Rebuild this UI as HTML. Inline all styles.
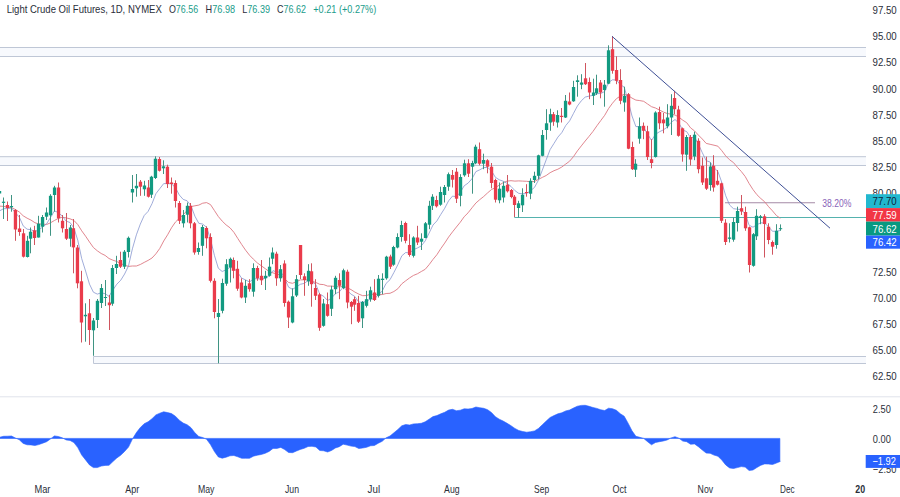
<!DOCTYPE html><html><head><meta charset="utf-8"><title>Light Crude Oil Futures</title>
<style>html,body{margin:0;padding:0;background:#fff}svg{display:block}text{font-family:"Liberation Sans","DejaVu Sans",sans-serif}</style></head><body>
<svg width="900" height="497" viewBox="0 0 900 497">
<rect width="900" height="497" fill="#ffffff"/>
<rect x="0" y="47.5" width="866" height="9.0" fill="#f7f9fd"/>
<path d="M0 47.5H866M0 56.5H866" stroke="#bfc7d6" stroke-width="1" fill="none"/>
<rect x="0" y="156.7" width="866" height="8.800000000000011" fill="#f7f9fd"/>
<path d="M0 156.7H866M0 165.5H866" stroke="#bfc7d6" stroke-width="1" fill="none"/>
<rect x="93.5" y="356.5" width="772.5" height="7.0" fill="#f7f9fd"/>
<path d="M93.5 356.5H866M93.5 363.5H866M93.5 356.5V363.5" stroke="#bfc7d6" stroke-width="1" fill="none"/>
<path d="M0 396.8H900" stroke="#e0e3eb" stroke-width="1"/>
<path d="M514.3 217.5H866" stroke="#55b2ae" stroke-width="1.0"/>
<path d="M725 202.7H815" stroke="#a58aa6" stroke-width="1.1"/>
<text x="822.3" y="206.5" font-size="10.5" fill="#8a63b8" textLength="29.2" lengthAdjust="spacingAndGlyphs">38.20%</text>
<polyline points="-0.3,206.1 3.6,206.4 7.6,207.2 11.5,207.6 15.4,209.5 19.3,212.0 23.2,215.8 27.1,218.2 31.0,220.1 34.9,222.7 38.8,224.0 42.7,224.1 46.6,224.5 50.5,222.8 54.4,220.5 58.3,218.4 62.2,217.2 66.1,217.9 70.0,218.8 73.9,220.4 77.8,224.6 81.7,230.8 85.6,236.2 89.5,242.0 93.4,247.5 97.3,250.8 101.2,253.5 105.1,255.4 109.0,258.5 112.9,260.2 116.8,261.5 120.7,263.5 124.6,265.2 128.5,266.4 132.4,266.0 136.4,266.0 140.3,264.5 144.2,262.4 148.1,260.4 152.0,258.0 155.9,253.8 159.8,248.4 163.7,241.0 167.6,234.8 171.5,227.8 175.4,222.1 179.3,218.3 183.2,214.8 187.1,210.5 191.0,206.6 194.9,205.8 198.8,205.1 202.7,203.2 206.6,202.6 210.5,204.6 214.4,210.5 218.3,216.5 222.2,221.1 226.1,224.9 230.0,227.8 233.9,232.3 237.8,238.5 241.7,244.5 245.6,250.2 249.5,255.2 253.4,259.2 257.3,262.9 261.2,265.7 265.2,268.6 269.1,271.5 273.0,272.9 276.9,274.1 280.8,275.2 284.7,278.8 288.6,282.5 292.5,283.3 296.4,281.7 300.3,279.9 304.2,279.8 308.1,280.1 312.0,281.3 315.9,282.5 319.8,284.3 323.7,284.6 327.6,286.1 331.5,286.1 335.4,286.5 339.3,286.9 343.2,286.4 347.1,287.7 351.0,289.6 354.9,292.1 358.8,294.1 362.7,295.7 366.6,295.5 370.5,294.2 374.4,294.4 378.3,294.4 382.2,294.6 386.1,293.5 390.0,293.3 393.9,291.5 397.9,288.7 401.8,283.8 405.7,280.8 409.6,277.9 413.5,275.4 417.4,273.8 421.3,271.5 425.2,269.3 429.1,264.7 433.0,259.4 436.9,254.7 440.8,248.6 444.7,243.1 448.6,237.1 452.5,231.9 456.4,227.0 460.3,222.2 464.2,216.7 468.1,212.8 472.0,207.8 475.9,203.0 479.8,199.6 483.7,196.5 487.6,192.9 491.5,189.5 495.4,187.7 499.3,185.1 503.2,182.6 507.1,181.1 511.0,180.7 514.9,181.1 518.8,180.9 522.7,181.1 526.7,181.3 530.6,181.7 534.5,181.5 538.4,179.4 542.3,177.4 546.2,175.5 550.1,172.7 554.0,170.7 557.9,169.2 561.8,167.0 565.7,164.1 569.6,161.2 573.5,156.6 577.4,150.9 581.3,145.9 585.2,141.0 589.1,136.3 593.0,131.4 596.9,125.8 600.8,120.5 604.7,115.3 608.6,108.5 612.5,103.2 616.4,98.7 620.3,96.1 624.2,94.3 628.1,95.5 632.0,98.1 635.9,100.1 639.8,100.6 643.7,101.3 647.6,104.0 651.5,106.7 655.5,108.0 659.4,110.0 663.3,112.0 667.2,113.5 671.1,114.2 675.0,115.0 678.9,117.2 682.8,120.2 686.7,122.7 690.6,127.9 694.5,130.9 698.4,135.1 702.3,139.0 706.2,143.4 710.1,144.3 714.0,145.2 717.9,146.2 721.8,150.7 725.7,155.9 729.6,159.8 733.5,162.6 737.4,167.3 741.3,171.5 745.2,176.5 749.1,183.5 753.0,189.6 756.9,194.7 760.8,198.5 764.7,201.8 768.6,206.7 772.5,210.9 776.4,215.5 780.3,218.3" fill="none" stroke="#dc7882" stroke-width="0.9" stroke-opacity="1" stroke-linejoin="round"/>
<polyline points="-0.3,210.8 3.6,208.7 7.6,208.6 11.5,208.0 15.4,212.8 19.3,217.1 23.2,225.9 27.1,229.2 31.0,229.7 34.9,231.6 38.8,229.8 42.7,227.0 46.6,223.8 50.5,217.5 54.4,210.9 58.3,212.5 62.2,216.0 66.1,221.1 70.0,222.5 73.9,228.0 77.8,240.3 81.7,258.6 85.6,271.1 89.5,284.2 93.4,292.2 97.3,294.1 101.2,292.8 105.1,293.7 109.0,296.3 112.9,290.0 116.8,284.2 120.7,280.3 124.6,274.0 128.5,265.9 132.4,248.8 136.4,234.8 140.3,224.1 144.2,215.5 148.1,211.4 152.0,203.7 155.9,193.7 159.8,188.6 163.7,183.6 167.6,183.7 171.5,183.8 175.4,187.6 179.3,195.0 183.2,199.4 187.1,200.8 191.0,205.8 194.9,216.2 198.8,223.3 202.7,224.1 206.6,227.3 210.5,239.2 214.4,255.3 218.3,268.2 222.2,271.5 226.1,269.8 230.0,267.4 233.9,268.1 237.8,272.7 241.7,278.2 245.6,279.9 249.5,282.0 253.4,278.9 257.3,278.7 261.2,279.1 265.2,278.4 269.1,275.8 273.0,270.6 276.9,272.3 280.8,271.6 284.7,278.6 288.6,287.2 292.5,289.3 296.4,287.0 300.3,284.3 304.2,283.4 308.1,280.6 312.0,281.4 315.9,284.6 319.8,294.2 323.7,296.3 327.6,300.6 331.5,298.1 335.4,293.6 339.3,291.9 343.2,287.1 347.1,290.5 351.0,294.1 354.9,296.5 358.8,302.1 362.7,302.1 366.6,301.4 370.5,298.9 374.4,299.2 378.3,294.6 382.2,291.1 386.1,283.4 390.0,279.7 393.9,272.5 397.9,264.6 401.8,255.8 405.7,252.5 409.6,253.0 413.5,249.6 417.4,248.0 421.3,245.9 425.2,240.9 429.1,233.1 433.0,225.0 436.9,220.9 440.8,214.4 444.7,208.3 448.6,200.8 452.5,196.1 456.4,196.7 460.3,192.3 464.2,185.8 468.1,183.1 472.0,178.7 475.9,171.6 479.8,169.8 483.7,167.6 487.6,167.4 491.5,170.9 495.4,177.3 499.3,179.8 503.2,181.2 507.1,183.4 511.0,186.4 514.9,190.6 518.8,193.4 522.7,193.7 526.7,193.5 530.6,190.7 534.5,187.4 538.4,180.3 542.3,170.2 546.2,159.8 550.1,149.6 554.0,143.4 557.9,137.1 561.8,132.6 565.7,125.6 569.6,120.9 573.5,113.4 577.4,106.0 581.3,100.8 585.2,97.1 589.1,96.1 593.0,95.3 596.9,93.7 600.8,93.5 604.7,91.5 608.6,82.4 612.5,79.8 616.4,80.0 620.3,84.6 624.2,87.1 628.1,100.8 632.0,116.0 635.9,126.6 639.8,126.5 643.7,127.5 647.6,134.0 651.5,140.5 655.5,134.3 659.4,131.8 663.3,129.9 667.2,127.2 671.1,122.4 675.0,119.5 678.9,123.1 682.8,130.1 686.7,131.6 690.6,137.8 694.5,137.1 698.4,144.2 702.3,152.7 706.2,160.7 710.1,162.0 714.0,167.7 717.9,171.5 721.8,182.4 725.7,195.7 729.6,205.0 733.5,208.7 737.4,209.2 741.3,209.7 745.2,213.9 749.1,225.2 753.0,227.2 756.9,224.7 760.8,222.8 764.7,223.1 768.6,226.8 772.5,231.3 776.4,231.2 780.3,230.5" fill="none" stroke="#8090cc" stroke-width="0.75" stroke-opacity="1" stroke-linejoin="round"/>
<path d="M-0.5 190.0V195.0" stroke="#3f9483" stroke-width="1"/>
<rect x="-2.1" y="191.0" width="3.3" height="2.5" fill="#129a81"/>
<path d="M3.5 197.5V219.0" stroke="#3f9483" stroke-width="1"/>
<rect x="1.9" y="201.7" width="3.3" height="1.2" fill="#129a81"/>
<path d="M7.5 201.5V221.0" stroke="#d0555f" stroke-width="1"/>
<rect x="5.8" y="205.0" width="3.3" height="3.0" fill="#ea3b4b"/>
<path d="M11.5 195.0V211.7" stroke="#3f9483" stroke-width="1"/>
<rect x="9.8" y="206.0" width="3.3" height="1.2" fill="#129a81"/>
<path d="M15.5 209.0V240.8" stroke="#d0555f" stroke-width="1"/>
<rect x="13.8" y="210.0" width="3.3" height="19.5" fill="#ea3b4b"/>
<path d="M19.5 215.0V235.8" stroke="#d0555f" stroke-width="1"/>
<rect x="17.9" y="228.5" width="3.3" height="3.5" fill="#ea3b4b"/>
<path d="M23.5 229.0V257.5" stroke="#d0555f" stroke-width="1"/>
<rect x="21.9" y="233.3" width="3.3" height="23.4" fill="#ea3b4b"/>
<path d="M27.5 235.8V257.5" stroke="#3f9483" stroke-width="1"/>
<rect x="25.9" y="240.8" width="3.3" height="16.2" fill="#129a81"/>
<path d="M30.5 227.5V253.3" stroke="#3f9483" stroke-width="1"/>
<rect x="28.9" y="231.7" width="3.3" height="7.0" fill="#129a81"/>
<path d="M34.5 225.8V245.0" stroke="#d0555f" stroke-width="1"/>
<rect x="32.9" y="230.3" width="3.3" height="7.7" fill="#ea3b4b"/>
<path d="M38.5 215.8V237.5" stroke="#3f9483" stroke-width="1"/>
<rect x="36.9" y="223.7" width="3.3" height="13.8" fill="#129a81"/>
<path d="M42.5 215.0V232.5" stroke="#3f9483" stroke-width="1"/>
<rect x="40.9" y="217.0" width="3.3" height="9.7" fill="#129a81"/>
<path d="M46.5 207.5V220.0" stroke="#3f9483" stroke-width="1"/>
<rect x="44.9" y="212.5" width="3.3" height="4.2" fill="#129a81"/>
<path d="M50.5 194.2V235.8" stroke="#3f9483" stroke-width="1"/>
<rect x="48.9" y="195.8" width="3.3" height="19.5" fill="#129a81"/>
<path d="M54.5 185.8V211.7" stroke="#3f9483" stroke-width="1"/>
<rect x="52.9" y="187.5" width="3.3" height="7.5" fill="#129a81"/>
<path d="M58.5 182.5V222.5" stroke="#d0555f" stroke-width="1"/>
<rect x="56.9" y="187.5" width="3.3" height="30.8" fill="#ea3b4b"/>
<path d="M62.5 215.0V232.5" stroke="#d0555f" stroke-width="1"/>
<rect x="60.9" y="220.8" width="3.3" height="7.5" fill="#ea3b4b"/>
<path d="M66.5 213.0V240.0" stroke="#d0555f" stroke-width="1"/>
<rect x="64.8" y="229.0" width="3.3" height="9.7" fill="#ea3b4b"/>
<path d="M70.5 225.0V246.7" stroke="#3f9483" stroke-width="1"/>
<rect x="68.8" y="227.5" width="3.3" height="11.2" fill="#129a81"/>
<path d="M73.5 219.0V273.3" stroke="#d0555f" stroke-width="1"/>
<rect x="71.8" y="228.3" width="3.3" height="19.1" fill="#ea3b4b"/>
<path d="M77.5 245.0V288.3" stroke="#d0555f" stroke-width="1"/>
<rect x="75.8" y="247.5" width="3.3" height="35.8" fill="#ea3b4b"/>
<path d="M81.5 270.8V342.5" stroke="#d0555f" stroke-width="1"/>
<rect x="79.8" y="281.3" width="3.3" height="41.2" fill="#ea3b4b"/>
<path d="M85.5 303.3V341.7" stroke="#3f9483" stroke-width="1"/>
<rect x="83.8" y="314.8" width="3.3" height="1.5" fill="#129a81"/>
<path d="M89.5 299.0V345.0" stroke="#d0555f" stroke-width="1"/>
<rect x="87.8" y="313.3" width="3.3" height="16.7" fill="#ea3b4b"/>
<path d="M93.5 318.0V355.8" stroke="#3f9483" stroke-width="1"/>
<rect x="91.8" y="320.5" width="3.3" height="9.8" fill="#129a81"/>
<path d="M97.5 299.0V328.0" stroke="#3f9483" stroke-width="1"/>
<rect x="95.8" y="300.8" width="3.3" height="19.2" fill="#129a81"/>
<path d="M101.5 284.0V308.0" stroke="#3f9483" stroke-width="1"/>
<rect x="99.8" y="288.0" width="3.3" height="15.0" fill="#129a81"/>
<path d="M105.5 280.0V306.0" stroke="#3f9483" stroke-width="1"/>
<rect x="103.8" y="297.0" width="3.3" height="1.0" fill="#129a81"/>
<path d="M109.5 295.0V330.0" stroke="#d0555f" stroke-width="1"/>
<rect x="107.8" y="302.5" width="3.3" height="2.7" fill="#ea3b4b"/>
<path d="M112.5 265.0V305.8" stroke="#3f9483" stroke-width="1"/>
<rect x="110.8" y="268.0" width="3.3" height="35.7" fill="#129a81"/>
<path d="M116.5 255.8V274.0" stroke="#3f9483" stroke-width="1"/>
<rect x="114.8" y="264.0" width="3.3" height="4.0" fill="#129a81"/>
<path d="M120.5 251.7V268.0" stroke="#d0555f" stroke-width="1"/>
<rect x="118.8" y="260.0" width="3.3" height="6.7" fill="#ea3b4b"/>
<path d="M124.5 250.0V269.0" stroke="#3f9483" stroke-width="1"/>
<rect x="122.8" y="251.7" width="3.3" height="15.0" fill="#129a81"/>
<path d="M128.5 236.5V257.5" stroke="#3f9483" stroke-width="1"/>
<rect x="126.8" y="237.8" width="3.3" height="14.2" fill="#129a81"/>
<path d="M132.5 175.0V202.5" stroke="#3f9483" stroke-width="1"/>
<rect x="130.8" y="189.0" width="3.3" height="3.5" fill="#129a81"/>
<path d="M136.5 174.0V196.7" stroke="#3f9483" stroke-width="1"/>
<rect x="134.8" y="185.8" width="3.3" height="2.5" fill="#129a81"/>
<path d="M140.5 180.0V195.8" stroke="#d0555f" stroke-width="1"/>
<rect x="138.8" y="181.7" width="3.3" height="5.0" fill="#ea3b4b"/>
<path d="M144.5 180.8V195.8" stroke="#3f9483" stroke-width="1"/>
<rect x="142.8" y="185.5" width="3.3" height="3.8" fill="#129a81"/>
<path d="M148.5 180.0V197.5" stroke="#d0555f" stroke-width="1"/>
<rect x="146.8" y="187.5" width="3.3" height="9.2" fill="#ea3b4b"/>
<path d="M151.5 175.8V198.0" stroke="#3f9483" stroke-width="1"/>
<rect x="149.8" y="176.7" width="3.3" height="18.0" fill="#129a81"/>
<path d="M155.5 156.3V179.0" stroke="#3f9483" stroke-width="1"/>
<rect x="153.8" y="158.7" width="3.3" height="19.3" fill="#129a81"/>
<path d="M159.5 157.0V171.5" stroke="#d0555f" stroke-width="1"/>
<rect x="157.8" y="159.0" width="3.3" height="11.8" fill="#ea3b4b"/>
<path d="M163.5 160.3V174.0" stroke="#3f9483" stroke-width="1"/>
<rect x="161.8" y="166.3" width="3.3" height="2.0" fill="#129a81"/>
<path d="M167.5 164.7V188.0" stroke="#d0555f" stroke-width="1"/>
<rect x="165.8" y="166.7" width="3.3" height="17.3" fill="#ea3b4b"/>
<path d="M171.5 177.5V193.7" stroke="#d0555f" stroke-width="1"/>
<rect x="169.8" y="182.5" width="3.3" height="1.5" fill="#ea3b4b"/>
<path d="M175.5 180.3V207.5" stroke="#d0555f" stroke-width="1"/>
<rect x="173.8" y="183.0" width="3.3" height="18.0" fill="#ea3b4b"/>
<path d="M179.5 201.0V224.0" stroke="#d0555f" stroke-width="1"/>
<rect x="177.8" y="203.0" width="3.3" height="17.8" fill="#ea3b4b"/>
<path d="M183.5 210.0V227.5" stroke="#3f9483" stroke-width="1"/>
<rect x="181.8" y="215.0" width="3.3" height="8.3" fill="#129a81"/>
<path d="M187.5 202.5V222.5" stroke="#3f9483" stroke-width="1"/>
<rect x="185.8" y="205.8" width="3.3" height="8.9" fill="#129a81"/>
<path d="M190.5 203.0V228.3" stroke="#d0555f" stroke-width="1"/>
<rect x="188.8" y="205.8" width="3.3" height="17.5" fill="#ea3b4b"/>
<path d="M194.5 222.0V254.7" stroke="#d0555f" stroke-width="1"/>
<rect x="192.8" y="223.3" width="3.3" height="29.2" fill="#ea3b4b"/>
<path d="M198.5 242.5V254.7" stroke="#3f9483" stroke-width="1"/>
<rect x="196.8" y="248.0" width="3.3" height="4.0" fill="#129a81"/>
<path d="M202.5 225.0V255.8" stroke="#3f9483" stroke-width="1"/>
<rect x="200.8" y="227.0" width="3.3" height="18.8" fill="#129a81"/>
<path d="M206.5 226.3V248.3" stroke="#d0555f" stroke-width="1"/>
<rect x="204.8" y="228.0" width="3.3" height="10.3" fill="#ea3b4b"/>
<path d="M210.5 233.3V282.5" stroke="#d0555f" stroke-width="1"/>
<rect x="208.8" y="237.0" width="3.3" height="43.8" fill="#ea3b4b"/>
<path d="M214.5 278.3V318.3" stroke="#d0555f" stroke-width="1"/>
<rect x="212.8" y="280.8" width="3.3" height="31.2" fill="#ea3b4b"/>
<path d="M218.5 299.0V363.3" stroke="#3f9483" stroke-width="1"/>
<rect x="216.8" y="313.0" width="3.3" height="4.0" fill="#129a81"/>
<path d="M222.5 278.7V313.3" stroke="#3f9483" stroke-width="1"/>
<rect x="220.8" y="283.0" width="3.3" height="27.8" fill="#129a81"/>
<path d="M226.5 259.2V285.8" stroke="#3f9483" stroke-width="1"/>
<rect x="224.8" y="264.2" width="3.3" height="19.5" fill="#129a81"/>
<path d="M230.5 257.5V282.5" stroke="#3f9483" stroke-width="1"/>
<rect x="228.8" y="258.8" width="3.3" height="8.7" fill="#129a81"/>
<path d="M233.5 257.5V278.3" stroke="#d0555f" stroke-width="1"/>
<rect x="231.8" y="260.0" width="3.3" height="10.8" fill="#ea3b4b"/>
<path d="M237.5 260.8V290.8" stroke="#d0555f" stroke-width="1"/>
<rect x="235.8" y="268.8" width="3.3" height="19.9" fill="#ea3b4b"/>
<path d="M241.5 278.3V298.3" stroke="#d0555f" stroke-width="1"/>
<rect x="239.8" y="282.5" width="3.3" height="15.0" fill="#ea3b4b"/>
<path d="M245.5 280.0V303.0" stroke="#3f9483" stroke-width="1"/>
<rect x="243.8" y="285.8" width="3.3" height="11.7" fill="#129a81"/>
<path d="M249.5 279.2V291.7" stroke="#d0555f" stroke-width="1"/>
<rect x="247.8" y="283.3" width="3.3" height="5.9" fill="#ea3b4b"/>
<path d="M253.5 263.3V296.7" stroke="#3f9483" stroke-width="1"/>
<rect x="251.8" y="268.0" width="3.3" height="23.7" fill="#129a81"/>
<path d="M257.5 265.8V280.8" stroke="#d0555f" stroke-width="1"/>
<rect x="255.8" y="268.0" width="3.3" height="10.3" fill="#ea3b4b"/>
<path d="M261.5 260.0V285.0" stroke="#d0555f" stroke-width="1"/>
<rect x="259.9" y="275.8" width="3.3" height="4.5" fill="#ea3b4b"/>
<path d="M265.5 270.8V290.0" stroke="#3f9483" stroke-width="1"/>
<rect x="263.9" y="275.8" width="3.3" height="2.5" fill="#129a81"/>
<path d="M269.5 257.5V276.7" stroke="#3f9483" stroke-width="1"/>
<rect x="267.9" y="266.7" width="3.3" height="9.1" fill="#129a81"/>
<path d="M272.5 247.5V264.2" stroke="#3f9483" stroke-width="1"/>
<rect x="270.9" y="252.5" width="3.3" height="6.2" fill="#129a81"/>
<path d="M276.5 251.7V285.8" stroke="#d0555f" stroke-width="1"/>
<rect x="274.9" y="253.7" width="3.3" height="24.6" fill="#ea3b4b"/>
<path d="M280.5 265.0V281.7" stroke="#3f9483" stroke-width="1"/>
<rect x="278.9" y="269.2" width="3.3" height="9.1" fill="#129a81"/>
<path d="M284.5 260.3V306.7" stroke="#d0555f" stroke-width="1"/>
<rect x="282.9" y="263.5" width="3.3" height="39.5" fill="#ea3b4b"/>
<path d="M288.5 300.5V328.0" stroke="#d0555f" stroke-width="1"/>
<rect x="286.9" y="301.7" width="3.3" height="15.8" fill="#ea3b4b"/>
<path d="M292.5 288.3V323.3" stroke="#3f9483" stroke-width="1"/>
<rect x="290.9" y="296.3" width="3.3" height="26.2" fill="#129a81"/>
<path d="M296.5 275.0V297.0" stroke="#3f9483" stroke-width="1"/>
<rect x="294.9" y="279.2" width="3.3" height="16.3" fill="#129a81"/>
<path d="M300.5 245.0V279.0" stroke="#d0555f" stroke-width="1"/>
<rect x="298.9" y="245.0" width="3.3" height="30.0" fill="#ea3b4b"/>
<path d="M304.5 273.3V295.8" stroke="#d0555f" stroke-width="1"/>
<rect x="302.9" y="276.3" width="3.3" height="3.7" fill="#ea3b4b"/>
<path d="M308.5 264.2V285.8" stroke="#3f9483" stroke-width="1"/>
<rect x="306.9" y="270.8" width="3.3" height="10.5" fill="#129a81"/>
<path d="M311.5 263.3V306.7" stroke="#d0555f" stroke-width="1"/>
<rect x="309.9" y="271.3" width="3.3" height="12.9" fill="#ea3b4b"/>
<path d="M315.5 279.2V300.0" stroke="#d0555f" stroke-width="1"/>
<rect x="313.9" y="288.0" width="3.3" height="7.8" fill="#ea3b4b"/>
<path d="M319.5 293.0V330.8" stroke="#d0555f" stroke-width="1"/>
<rect x="317.9" y="294.5" width="3.3" height="33.3" fill="#ea3b4b"/>
<path d="M323.5 299.0V326.7" stroke="#3f9483" stroke-width="1"/>
<rect x="321.9" y="303.5" width="3.3" height="22.3" fill="#129a81"/>
<path d="M327.5 292.5V316.7" stroke="#d0555f" stroke-width="1"/>
<rect x="325.9" y="304.2" width="3.3" height="11.6" fill="#ea3b4b"/>
<path d="M331.5 285.8V316.0" stroke="#3f9483" stroke-width="1"/>
<rect x="329.9" y="289.5" width="3.3" height="19.3" fill="#129a81"/>
<path d="M335.5 275.8V294.2" stroke="#3f9483" stroke-width="1"/>
<rect x="333.9" y="277.8" width="3.3" height="11.4" fill="#129a81"/>
<path d="M339.5 273.3V299.2" stroke="#d0555f" stroke-width="1"/>
<rect x="337.9" y="280.0" width="3.3" height="5.8" fill="#ea3b4b"/>
<path d="M343.5 268.7V289.2" stroke="#3f9483" stroke-width="1"/>
<rect x="341.9" y="270.3" width="3.3" height="17.7" fill="#129a81"/>
<path d="M347.5 269.7V308.3" stroke="#d0555f" stroke-width="1"/>
<rect x="345.9" y="271.7" width="3.3" height="30.8" fill="#ea3b4b"/>
<path d="M351.5 301.0V324.2" stroke="#d0555f" stroke-width="1"/>
<rect x="349.9" y="302.0" width="3.3" height="4.7" fill="#ea3b4b"/>
<path d="M354.5 296.7V310.8" stroke="#d0555f" stroke-width="1"/>
<rect x="352.9" y="299.2" width="3.3" height="5.5" fill="#ea3b4b"/>
<path d="M358.5 295.8V323.0" stroke="#d0555f" stroke-width="1"/>
<rect x="356.9" y="303.0" width="3.3" height="18.7" fill="#ea3b4b"/>
<path d="M362.5 301.0V328.0" stroke="#3f9483" stroke-width="1"/>
<rect x="360.9" y="302.0" width="3.3" height="16.3" fill="#129a81"/>
<path d="M366.5 290.8V307.5" stroke="#3f9483" stroke-width="1"/>
<rect x="364.9" y="299.2" width="3.3" height="6.6" fill="#129a81"/>
<path d="M370.5 286.7V301.7" stroke="#3f9483" stroke-width="1"/>
<rect x="368.9" y="290.3" width="3.3" height="8.9" fill="#129a81"/>
<path d="M374.5 279.2V301.0" stroke="#d0555f" stroke-width="1"/>
<rect x="372.9" y="292.5" width="3.3" height="7.5" fill="#ea3b4b"/>
<path d="M378.5 275.0V297.5" stroke="#3f9483" stroke-width="1"/>
<rect x="376.9" y="278.7" width="3.3" height="17.1" fill="#129a81"/>
<path d="M382.5 273.3V294.2" stroke="#3f9483" stroke-width="1"/>
<rect x="380.9" y="278.7" width="3.3" height="1.3" fill="#129a81"/>
<path d="M386.5 255.8V279.7" stroke="#3f9483" stroke-width="1"/>
<rect x="384.9" y="256.7" width="3.3" height="21.6" fill="#129a81"/>
<path d="M390.5 254.7V269.0" stroke="#d0555f" stroke-width="1"/>
<rect x="388.9" y="256.5" width="3.3" height="10.2" fill="#ea3b4b"/>
<path d="M393.5 245.8V265.8" stroke="#3f9483" stroke-width="1"/>
<rect x="391.9" y="247.0" width="3.3" height="17.7" fill="#129a81"/>
<path d="M397.5 233.3V248.3" stroke="#3f9483" stroke-width="1"/>
<rect x="395.9" y="237.0" width="3.3" height="10.5" fill="#129a81"/>
<path d="M401.5 220.8V241.7" stroke="#3f9483" stroke-width="1"/>
<rect x="399.9" y="225.0" width="3.3" height="12.0" fill="#129a81"/>
<path d="M405.5 221.7V243.3" stroke="#d0555f" stroke-width="1"/>
<rect x="403.9" y="223.0" width="3.3" height="17.8" fill="#ea3b4b"/>
<path d="M409.5 234.2V256.7" stroke="#d0555f" stroke-width="1"/>
<rect x="407.9" y="245.0" width="3.3" height="10.0" fill="#ea3b4b"/>
<path d="M413.5 236.3V257.5" stroke="#3f9483" stroke-width="1"/>
<rect x="411.9" y="237.5" width="3.3" height="18.3" fill="#129a81"/>
<path d="M417.5 225.8V245.0" stroke="#d0555f" stroke-width="1"/>
<rect x="415.9" y="237.5" width="3.3" height="5.0" fill="#ea3b4b"/>
<path d="M421.5 233.3V250.0" stroke="#3f9483" stroke-width="1"/>
<rect x="419.9" y="238.7" width="3.3" height="3.0" fill="#129a81"/>
<path d="M425.5 222.0V238.3" stroke="#3f9483" stroke-width="1"/>
<rect x="423.9" y="223.3" width="3.3" height="14.7" fill="#129a81"/>
<path d="M429.5 200.8V229.2" stroke="#3f9483" stroke-width="1"/>
<rect x="427.9" y="205.8" width="3.3" height="18.9" fill="#129a81"/>
<path d="M432.5 194.2V210.0" stroke="#3f9483" stroke-width="1"/>
<rect x="430.9" y="196.7" width="3.3" height="9.1" fill="#129a81"/>
<path d="M436.5 195.8V207.5" stroke="#d0555f" stroke-width="1"/>
<rect x="434.9" y="200.0" width="3.3" height="6.3" fill="#ea3b4b"/>
<path d="M440.5 186.7V205.8" stroke="#3f9483" stroke-width="1"/>
<rect x="438.9" y="192.0" width="3.3" height="12.7" fill="#129a81"/>
<path d="M444.5 185.0V202.5" stroke="#3f9483" stroke-width="1"/>
<rect x="442.9" y="187.0" width="3.3" height="8.0" fill="#129a81"/>
<path d="M448.5 172.5V190.8" stroke="#3f9483" stroke-width="1"/>
<rect x="446.9" y="174.2" width="3.3" height="12.5" fill="#129a81"/>
<path d="M452.5 170.0V187.5" stroke="#d0555f" stroke-width="1"/>
<rect x="450.9" y="175.0" width="3.3" height="4.7" fill="#ea3b4b"/>
<path d="M456.5 168.0V203.0" stroke="#d0555f" stroke-width="1"/>
<rect x="454.9" y="171.7" width="3.3" height="27.0" fill="#ea3b4b"/>
<path d="M460.5 174.2V206.3" stroke="#3f9483" stroke-width="1"/>
<rect x="458.9" y="177.0" width="3.3" height="18.8" fill="#129a81"/>
<path d="M464.5 159.7V176.7" stroke="#3f9483" stroke-width="1"/>
<rect x="462.9" y="163.3" width="3.3" height="12.0" fill="#129a81"/>
<path d="M468.5 159.2V177.0" stroke="#d0555f" stroke-width="1"/>
<rect x="466.9" y="163.3" width="3.3" height="10.4" fill="#ea3b4b"/>
<path d="M472.5 160.8V193.7" stroke="#3f9483" stroke-width="1"/>
<rect x="470.9" y="163.0" width="3.3" height="3.7" fill="#129a81"/>
<path d="M475.5 144.7V164.2" stroke="#3f9483" stroke-width="1"/>
<rect x="473.9" y="146.7" width="3.3" height="16.6" fill="#129a81"/>
<path d="M479.5 142.5V165.3" stroke="#d0555f" stroke-width="1"/>
<rect x="477.9" y="149.2" width="3.3" height="14.5" fill="#ea3b4b"/>
<path d="M483.5 153.7V169.2" stroke="#3f9483" stroke-width="1"/>
<rect x="481.9" y="160.0" width="3.3" height="3.7" fill="#129a81"/>
<path d="M487.5 159.2V173.3" stroke="#d0555f" stroke-width="1"/>
<rect x="485.9" y="160.3" width="3.3" height="6.4" fill="#ea3b4b"/>
<path d="M491.5 163.0V188.3" stroke="#d0555f" stroke-width="1"/>
<rect x="489.9" y="166.7" width="3.3" height="16.3" fill="#ea3b4b"/>
<path d="M495.5 178.7V202.5" stroke="#d0555f" stroke-width="1"/>
<rect x="493.9" y="180.0" width="3.3" height="19.7" fill="#ea3b4b"/>
<path d="M499.5 182.5V203.3" stroke="#3f9483" stroke-width="1"/>
<rect x="497.9" y="188.7" width="3.3" height="11.6" fill="#129a81"/>
<path d="M503.5 181.7V202.5" stroke="#3f9483" stroke-width="1"/>
<rect x="501.9" y="185.8" width="3.3" height="11.7" fill="#129a81"/>
<path d="M507.5 175.0V192.5" stroke="#d0555f" stroke-width="1"/>
<rect x="505.9" y="184.7" width="3.3" height="6.6" fill="#ea3b4b"/>
<path d="M511.5 189.0V198.3" stroke="#d0555f" stroke-width="1"/>
<rect x="509.9" y="190.0" width="3.3" height="7.0" fill="#ea3b4b"/>
<path d="M514.5 195.0V217.0" stroke="#d0555f" stroke-width="1"/>
<rect x="512.9" y="196.7" width="3.3" height="8.3" fill="#ea3b4b"/>
<path d="M518.5 200.8V217.5" stroke="#3f9483" stroke-width="1"/>
<rect x="516.9" y="203.3" width="3.3" height="4.7" fill="#129a81"/>
<path d="M522.5 188.3V212.0" stroke="#3f9483" stroke-width="1"/>
<rect x="520.9" y="194.7" width="3.3" height="10.6" fill="#129a81"/>
<path d="M526.5 184.2V196.7" stroke="#d0555f" stroke-width="1"/>
<rect x="524.9" y="192.0" width="3.3" height="1.0" fill="#ea3b4b"/>
<path d="M530.5 178.3V199.2" stroke="#3f9483" stroke-width="1"/>
<rect x="528.9" y="180.8" width="3.3" height="12.9" fill="#129a81"/>
<path d="M534.5 171.7V183.0" stroke="#3f9483" stroke-width="1"/>
<rect x="532.9" y="175.8" width="3.3" height="4.2" fill="#129a81"/>
<path d="M538.5 154.7V179.2" stroke="#3f9483" stroke-width="1"/>
<rect x="536.9" y="155.3" width="3.3" height="20.5" fill="#129a81"/>
<path d="M542.5 130.0V156.3" stroke="#3f9483" stroke-width="1"/>
<rect x="540.9" y="135.0" width="3.3" height="20.8" fill="#129a81"/>
<path d="M546.5 109.2V139.7" stroke="#3f9483" stroke-width="1"/>
<rect x="544.9" y="123.3" width="3.3" height="6.7" fill="#129a81"/>
<path d="M550.5 108.7V130.8" stroke="#3f9483" stroke-width="1"/>
<rect x="548.9" y="114.2" width="3.3" height="8.3" fill="#129a81"/>
<path d="M553.5 112.0V125.8" stroke="#d0555f" stroke-width="1"/>
<rect x="551.9" y="114.2" width="3.3" height="7.5" fill="#ea3b4b"/>
<path d="M557.5 110.3V127.5" stroke="#3f9483" stroke-width="1"/>
<rect x="555.9" y="115.0" width="3.3" height="7.5" fill="#129a81"/>
<path d="M561.5 108.0V122.5" stroke="#d0555f" stroke-width="1"/>
<rect x="559.9" y="115.8" width="3.3" height="1.2" fill="#ea3b4b"/>
<path d="M565.5 95.0V118.0" stroke="#3f9483" stroke-width="1"/>
<rect x="563.9" y="100.8" width="3.3" height="16.7" fill="#129a81"/>
<path d="M569.5 92.5V105.3" stroke="#d0555f" stroke-width="1"/>
<rect x="567.9" y="101.5" width="3.3" height="3.0" fill="#ea3b4b"/>
<path d="M573.5 80.8V101.8" stroke="#3f9483" stroke-width="1"/>
<rect x="571.9" y="87.0" width="3.3" height="14.3" fill="#129a81"/>
<path d="M577.5 75.3V96.7" stroke="#3f9483" stroke-width="1"/>
<rect x="575.9" y="80.3" width="3.3" height="1.7" fill="#129a81"/>
<path d="M581.5 74.2V89.2" stroke="#3f9483" stroke-width="1"/>
<rect x="579.9" y="82.5" width="3.3" height="2.2" fill="#129a81"/>
<path d="M585.5 63.0V85.0" stroke="#d0555f" stroke-width="1"/>
<rect x="583.9" y="78.3" width="3.3" height="5.9" fill="#ea3b4b"/>
<path d="M589.5 77.5V99.2" stroke="#d0555f" stroke-width="1"/>
<rect x="587.9" y="82.0" width="3.3" height="10.5" fill="#ea3b4b"/>
<path d="M593.5 78.7V105.0" stroke="#3f9483" stroke-width="1"/>
<rect x="591.9" y="92.5" width="3.3" height="3.3" fill="#129a81"/>
<path d="M596.5 74.7V95.0" stroke="#3f9483" stroke-width="1"/>
<rect x="594.9" y="88.3" width="3.3" height="5.0" fill="#129a81"/>
<path d="M600.5 80.0V98.3" stroke="#d0555f" stroke-width="1"/>
<rect x="598.9" y="82.5" width="3.3" height="10.0" fill="#ea3b4b"/>
<path d="M604.5 80.0V106.7" stroke="#3f9483" stroke-width="1"/>
<rect x="602.9" y="84.7" width="3.3" height="5.3" fill="#129a81"/>
<path d="M608.5 45.3V84.2" stroke="#3f9483" stroke-width="1"/>
<rect x="606.9" y="50.3" width="3.3" height="33.4" fill="#129a81"/>
<path d="M612.5 36.3V73.7" stroke="#d0555f" stroke-width="1"/>
<rect x="610.9" y="49.2" width="3.3" height="21.6" fill="#ea3b4b"/>
<path d="M616.5 56.3V84.2" stroke="#d0555f" stroke-width="1"/>
<rect x="614.9" y="70.0" width="3.3" height="10.8" fill="#ea3b4b"/>
<path d="M620.5 69.2V104.2" stroke="#d0555f" stroke-width="1"/>
<rect x="618.9" y="80.0" width="3.3" height="20.8" fill="#ea3b4b"/>
<path d="M624.5 86.7V111.7" stroke="#3f9483" stroke-width="1"/>
<rect x="622.9" y="95.8" width="3.3" height="6.7" fill="#129a81"/>
<path d="M628.5 93.0V149.2" stroke="#d0555f" stroke-width="1"/>
<rect x="626.9" y="94.2" width="3.3" height="54.5" fill="#ea3b4b"/>
<path d="M632.5 141.7V170.0" stroke="#d0555f" stroke-width="1"/>
<rect x="630.9" y="147.0" width="3.3" height="22.2" fill="#ea3b4b"/>
<path d="M635.5 159.2V177.0" stroke="#3f9483" stroke-width="1"/>
<rect x="633.9" y="163.7" width="3.3" height="6.0" fill="#129a81"/>
<path d="M639.5 117.5V143.7" stroke="#3f9483" stroke-width="1"/>
<rect x="637.9" y="126.3" width="3.3" height="12.4" fill="#129a81"/>
<path d="M643.5 122.5V139.2" stroke="#d0555f" stroke-width="1"/>
<rect x="641.9" y="125.8" width="3.3" height="5.0" fill="#ea3b4b"/>
<path d="M647.5 125.8V160.0" stroke="#d0555f" stroke-width="1"/>
<rect x="645.9" y="131.3" width="3.3" height="25.7" fill="#ea3b4b"/>
<path d="M651.5 139.2V168.3" stroke="#d0555f" stroke-width="1"/>
<rect x="649.9" y="159.2" width="3.3" height="3.8" fill="#ea3b4b"/>
<path d="M655.5 111.3V157.5" stroke="#3f9483" stroke-width="1"/>
<rect x="653.9" y="112.5" width="3.3" height="44.5" fill="#129a81"/>
<path d="M659.5 106.7V129.2" stroke="#d0555f" stroke-width="1"/>
<rect x="657.9" y="112.0" width="3.3" height="11.3" fill="#ea3b4b"/>
<path d="M663.5 113.0V133.3" stroke="#d0555f" stroke-width="1"/>
<rect x="661.9" y="119.5" width="3.3" height="3.8" fill="#ea3b4b"/>
<path d="M667.5 104.2V128.3" stroke="#3f9483" stroke-width="1"/>
<rect x="665.9" y="117.5" width="3.3" height="8.8" fill="#129a81"/>
<path d="M671.5 94.2V135.0" stroke="#3f9483" stroke-width="1"/>
<rect x="669.9" y="105.8" width="3.3" height="11.7" fill="#129a81"/>
<path d="M674.5 90.8V114.2" stroke="#d0555f" stroke-width="1"/>
<rect x="672.9" y="98.0" width="3.3" height="11.2" fill="#ea3b4b"/>
<path d="M678.5 105.8V136.7" stroke="#d0555f" stroke-width="1"/>
<rect x="676.9" y="109.5" width="3.3" height="26.3" fill="#ea3b4b"/>
<path d="M682.5 127.5V161.7" stroke="#d0555f" stroke-width="1"/>
<rect x="680.9" y="128.3" width="3.3" height="26.1" fill="#ea3b4b"/>
<path d="M686.5 135.0V170.8" stroke="#3f9483" stroke-width="1"/>
<rect x="684.9" y="137.0" width="3.3" height="17.7" fill="#129a81"/>
<path d="M690.5 135.0V165.5" stroke="#d0555f" stroke-width="1"/>
<rect x="688.9" y="137.0" width="3.3" height="22.5" fill="#ea3b4b"/>
<path d="M694.5 131.7V160.2" stroke="#3f9483" stroke-width="1"/>
<rect x="692.9" y="134.7" width="3.3" height="21.8" fill="#129a81"/>
<path d="M698.5 138.3V173.3" stroke="#d0555f" stroke-width="1"/>
<rect x="696.9" y="140.8" width="3.3" height="28.4" fill="#ea3b4b"/>
<path d="M702.5 157.5V185.0" stroke="#d0555f" stroke-width="1"/>
<rect x="700.9" y="165.8" width="3.3" height="16.7" fill="#ea3b4b"/>
<path d="M706.5 156.7V190.0" stroke="#d0555f" stroke-width="1"/>
<rect x="704.9" y="178.3" width="3.3" height="10.4" fill="#ea3b4b"/>
<path d="M710.5 162.5V190.8" stroke="#3f9483" stroke-width="1"/>
<rect x="708.9" y="166.5" width="3.3" height="18.5" fill="#129a81"/>
<path d="M713.5 155.2V191.7" stroke="#d0555f" stroke-width="1"/>
<rect x="711.9" y="165.8" width="3.3" height="21.7" fill="#ea3b4b"/>
<path d="M717.5 170.0V185.5" stroke="#d0555f" stroke-width="1"/>
<rect x="715.9" y="180.8" width="3.3" height="3.9" fill="#ea3b4b"/>
<path d="M721.5 182.5V223.0" stroke="#d0555f" stroke-width="1"/>
<rect x="719.9" y="183.3" width="3.3" height="37.5" fill="#ea3b4b"/>
<path d="M725.5 219.2V245.0" stroke="#d0555f" stroke-width="1"/>
<rect x="723.9" y="222.7" width="3.3" height="19.3" fill="#ea3b4b"/>
<path d="M729.5 223.3V242.5" stroke="#3f9483" stroke-width="1"/>
<rect x="727.9" y="237.5" width="3.3" height="1.3" fill="#129a81"/>
<path d="M733.5 217.5V241.7" stroke="#3f9483" stroke-width="1"/>
<rect x="731.9" y="222.0" width="3.3" height="17.7" fill="#129a81"/>
<path d="M737.5 206.7V231.5" stroke="#3f9483" stroke-width="1"/>
<rect x="735.9" y="211.0" width="3.3" height="12.0" fill="#129a81"/>
<path d="M741.5 195.0V215.0" stroke="#d0555f" stroke-width="1"/>
<rect x="739.9" y="208.2" width="3.3" height="3.3" fill="#ea3b4b"/>
<path d="M745.5 206.7V230.8" stroke="#d0555f" stroke-width="1"/>
<rect x="743.9" y="212.0" width="3.3" height="16.3" fill="#ea3b4b"/>
<path d="M749.5 226.5V272.5" stroke="#d0555f" stroke-width="1"/>
<rect x="747.9" y="227.3" width="3.3" height="37.7" fill="#ea3b4b"/>
<path d="M753.5 233.0V266.7" stroke="#3f9483" stroke-width="1"/>
<rect x="751.9" y="234.2" width="3.3" height="31.6" fill="#129a81"/>
<path d="M756.5 209.2V240.0" stroke="#3f9483" stroke-width="1"/>
<rect x="754.9" y="215.8" width="3.3" height="20.5" fill="#129a81"/>
<path d="M760.5 215.0V224.2" stroke="#3f9483" stroke-width="1"/>
<rect x="758.9" y="216.3" width="3.3" height="1.7" fill="#129a81"/>
<path d="M764.5 214.2V257.5" stroke="#d0555f" stroke-width="1"/>
<rect x="762.9" y="216.3" width="3.3" height="7.7" fill="#ea3b4b"/>
<path d="M768.5 223.3V244.2" stroke="#d0555f" stroke-width="1"/>
<rect x="766.9" y="226.7" width="3.3" height="13.3" fill="#ea3b4b"/>
<path d="M772.5 240.5V254.7" stroke="#d0555f" stroke-width="1"/>
<rect x="770.9" y="242.0" width="3.3" height="4.7" fill="#ea3b4b"/>
<path d="M776.5 224.2V248.7" stroke="#3f9483" stroke-width="1"/>
<rect x="774.9" y="230.8" width="3.3" height="14.2" fill="#129a81"/>
<path d="M780.5 224.4V230.8" stroke="#3f9483" stroke-width="1"/>
<rect x="778.9" y="228.2" width="3.3" height="1.0" fill="#129a81"/>
<path d="M612 36.3L830 228.2" stroke="#3f5096" stroke-width="1.0"/>
<path d="M-0.3 438.4L-0.3 437.2L3.6 436.3L7.6 436.2L11.5 436.0L15.4 438.0L19.3 439.8L23.2 443.4L27.1 444.8L31.0 444.9L34.9 445.5L38.8 444.6L42.7 443.2L46.6 441.7L50.5 438.9L54.4 435.9L58.3 436.5L62.2 437.8L66.1 439.9L70.0 440.4L73.9 442.6L77.8 447.6L81.7 455.0L85.6 459.9L89.5 464.9L93.4 467.6L97.3 467.6L101.2 466.1L105.1 465.4L109.0 465.3L112.9 461.6L116.8 458.0L120.7 455.2L124.6 451.4L128.5 447.1L132.4 439.1L136.4 432.6L140.3 427.6L144.2 423.7L148.1 421.8L152.0 418.7L155.9 414.9L159.8 413.2L163.7 411.8L167.6 412.6L171.5 413.6L175.4 416.2L179.3 420.2L183.2 423.1L187.1 424.7L191.0 427.7L194.9 432.8L198.8 436.5L202.7 437.5L206.6 439.3L210.5 444.6L214.4 451.5L218.3 456.9L222.2 458.2L226.1 457.2L230.0 455.8L233.9 455.5L237.8 456.8L241.7 458.3L245.6 458.3L249.5 458.3L253.4 456.2L257.3 455.2L261.2 454.5L265.2 453.3L269.1 451.4L273.0 448.4L276.9 448.4L280.8 447.4L284.7 449.6L288.6 452.5L292.5 452.7L296.4 451.1L300.3 449.4L304.2 448.3L308.1 446.5L312.0 446.3L315.9 447.0L319.8 450.5L323.7 450.8L327.6 452.0L331.5 450.5L335.4 448.0L339.3 446.7L343.2 444.2L347.1 445.1L351.0 446.1L354.9 446.6L358.8 448.5L362.7 448.0L366.6 447.3L370.5 445.8L374.4 445.5L378.3 443.2L382.2 441.3L386.1 437.8L390.0 436.0L393.9 432.8L397.9 429.4L401.8 425.8L405.7 424.5L409.6 425.0L413.5 423.9L417.4 423.7L421.3 423.3L425.2 421.8L429.1 419.2L433.0 416.6L436.9 415.6L440.8 413.8L444.7 412.3L448.6 410.1L452.5 409.3L456.4 410.7L460.3 410.2L464.2 408.8L468.1 409.0L472.0 408.5L475.9 407.0L479.8 407.7L483.7 408.3L487.6 409.7L491.5 412.6L495.4 416.7L499.3 419.2L503.2 421.1L507.1 423.3L511.0 425.7L514.9 428.4L518.8 430.5L522.7 431.5L526.7 432.2L530.6 431.7L534.5 430.9L538.4 428.5L542.3 424.8L546.2 421.1L550.1 417.5L554.0 415.6L557.9 413.8L561.8 412.8L565.7 410.9L569.6 410.0L573.5 408.0L577.4 406.2L581.3 405.4L585.2 405.3L589.1 406.3L593.0 407.5L596.9 408.4L600.8 409.8L604.7 410.5L608.6 408.2L612.5 408.7L616.4 410.3L620.3 413.7L624.2 416.2L628.1 423.2L632.0 430.8L635.9 436.3L639.8 437.3L643.7 438.4L647.6 441.7L651.5 444.8L655.5 442.5L659.4 441.7L663.3 441.0L667.2 439.9L671.1 437.9L675.0 436.7L678.9 438.2L682.8 441.1L686.7 441.7L690.6 444.3L694.5 443.9L698.4 446.7L702.3 450.0L706.2 453.1L710.1 453.3L714.0 455.1L717.9 456.2L721.8 460.1L725.7 464.9L729.6 467.9L733.5 468.5L737.4 467.6L741.3 466.6L745.2 467.1L749.1 470.5L753.0 470.0L756.9 467.5L760.8 465.3L764.7 463.9L768.6 464.1L772.5 464.5L776.4 463.1L780.3 461.4L779.9 461.4L779.9 438.4Z" fill="#2962ff" stroke="#2962ff" stroke-width="0.6"/>
<text x="872.5" y="14.0" font-size="11" fill="#2a2e39" textLength="24.2" lengthAdjust="spacingAndGlyphs">97.50</text>
<text x="872.5" y="40.2" font-size="11" fill="#2a2e39" textLength="24.2" lengthAdjust="spacingAndGlyphs">95.00</text>
<text x="872.5" y="66.3" font-size="11" fill="#2a2e39" textLength="24.2" lengthAdjust="spacingAndGlyphs">92.50</text>
<text x="872.5" y="92.5" font-size="11" fill="#2a2e39" textLength="24.2" lengthAdjust="spacingAndGlyphs">90.00</text>
<text x="872.5" y="118.6" font-size="11" fill="#2a2e39" textLength="24.2" lengthAdjust="spacingAndGlyphs">87.50</text>
<text x="872.5" y="144.8" font-size="11" fill="#2a2e39" textLength="24.2" lengthAdjust="spacingAndGlyphs">85.00</text>
<text x="872.5" y="170.9" font-size="11" fill="#2a2e39" textLength="24.2" lengthAdjust="spacingAndGlyphs">82.50</text>
<text x="872.5" y="197.1" font-size="11" fill="#2a2e39" textLength="24.2" lengthAdjust="spacingAndGlyphs">80.00</text>
<text x="872.5" y="275.5" font-size="11" fill="#2a2e39" textLength="24.2" lengthAdjust="spacingAndGlyphs">72.50</text>
<text x="872.5" y="301.7" font-size="11" fill="#2a2e39" textLength="24.2" lengthAdjust="spacingAndGlyphs">70.00</text>
<text x="872.5" y="327.8" font-size="11" fill="#2a2e39" textLength="24.2" lengthAdjust="spacingAndGlyphs">67.50</text>
<text x="872.5" y="354.0" font-size="11" fill="#2a2e39" textLength="24.2" lengthAdjust="spacingAndGlyphs">65.00</text>
<text x="872.5" y="380.1" font-size="11" fill="#2a2e39" textLength="24.2" lengthAdjust="spacingAndGlyphs">62.50</text>
<text x="872.8" y="412.5" font-size="11" fill="#2a2e39" textLength="18.0" lengthAdjust="spacingAndGlyphs">2.50</text>
<text x="872.8" y="442.5" font-size="11" fill="#2a2e39" textLength="18.0" lengthAdjust="spacingAndGlyphs">0.00</text>
<text x="872.8" y="472.5" font-size="11" fill="#2a2e39" textLength="23.5" lengthAdjust="spacingAndGlyphs">−2.50</text>
<rect x="866" y="194.2" width="34" height="13.900000000000006" fill="#22b8cf"/>
<text x="872.5" y="205.1" font-size="11" fill="#10243a" textLength="24.2" lengthAdjust="spacingAndGlyphs">77.70</text>
<rect x="866" y="208.1" width="34" height="13.5" fill="#f23645"/>
<text x="872.5" y="218.8" font-size="11" fill="#ffffff" textLength="24.2" lengthAdjust="spacingAndGlyphs">77.59</text>
<rect x="866" y="221.6" width="34" height="14.0" fill="#089981"/>
<text x="872.5" y="232.6" font-size="11" fill="#ffffff" textLength="24.2" lengthAdjust="spacingAndGlyphs">76.62</text>
<rect x="866" y="235.6" width="34" height="13.099999999999994" fill="#2962ff"/>
<text x="872.5" y="246.1" font-size="11" fill="#ffffff" textLength="24.2" lengthAdjust="spacingAndGlyphs">76.42</text>
<rect x="865.7" y="455" width="34.3" height="12.9" fill="#2962ff"/>
<text x="872.4" y="465.4" font-size="11" fill="#ffffff" textLength="23.5" lengthAdjust="spacingAndGlyphs">−1.92</text>
<text x="34.4" y="493" font-size="10.5" fill="#2a2e39" textLength="16" lengthAdjust="spacingAndGlyphs">Mar</text>
<text x="125.2" y="493" font-size="10.5" fill="#2a2e39" textLength="14" lengthAdjust="spacingAndGlyphs">Apr</text>
<text x="197.9" y="493" font-size="10.5" fill="#2a2e39" textLength="16.5" lengthAdjust="spacingAndGlyphs">May</text>
<text x="285.0" y="493" font-size="10.5" fill="#2a2e39" textLength="14" lengthAdjust="spacingAndGlyphs">Jun</text>
<text x="367.6" y="493" font-size="10.5" fill="#2a2e39" textLength="12.5" lengthAdjust="spacingAndGlyphs">Jul</text>
<text x="444.1" y="493" font-size="10.5" fill="#2a2e39" textLength="15.5" lengthAdjust="spacingAndGlyphs">Aug</text>
<text x="534.1" y="493" font-size="10.5" fill="#2a2e39" textLength="15" lengthAdjust="spacingAndGlyphs">Sep</text>
<text x="612.6" y="493" font-size="10.5" fill="#2a2e39" textLength="14" lengthAdjust="spacingAndGlyphs">Oct</text>
<text x="697.6" y="493" font-size="10.5" fill="#2a2e39" textLength="15.5" lengthAdjust="spacingAndGlyphs">Nov</text>
<text x="780.0" y="493" font-size="10.5" fill="#2a2e39" textLength="14.5" lengthAdjust="spacingAndGlyphs">Dec</text>
<text x="855.3" y="493" font-size="10.5" font-weight="bold" fill="#2a2e39" textLength="9.8" lengthAdjust="spacingAndGlyphs">20</text>
<text x="6.7" y="12.9" font-size="11" fill="#2a2e39" textLength="155.1" lengthAdjust="spacingAndGlyphs">Light Crude Oil Futures, 1D, NYMEX</text>
<text x="168.9" y="12.9" font-size="11" fill="#2a2e39" textLength="29.2" lengthAdjust="spacingAndGlyphs">O<tspan fill="#1a9c8a">76.56</tspan></text>
<text x="205.6" y="12.9" font-size="11" fill="#2a2e39" textLength="29.5" lengthAdjust="spacingAndGlyphs">H<tspan fill="#1a9c8a">76.98</tspan></text>
<text x="242.2" y="12.9" font-size="11" fill="#2a2e39" textLength="27.8" lengthAdjust="spacingAndGlyphs">L<tspan fill="#1a9c8a">76.39</tspan></text>
<text x="277.1" y="12.9" font-size="11" fill="#2a2e39" textLength="28.9" lengthAdjust="spacingAndGlyphs">C<tspan fill="#1a9c8a">76.62</tspan></text>
<text x="313.3" y="12.9" font-size="11" fill="#1a9c8a" textLength="62.9" lengthAdjust="spacingAndGlyphs">+0.21 (+0.27%)</text>
</svg></body></html>
